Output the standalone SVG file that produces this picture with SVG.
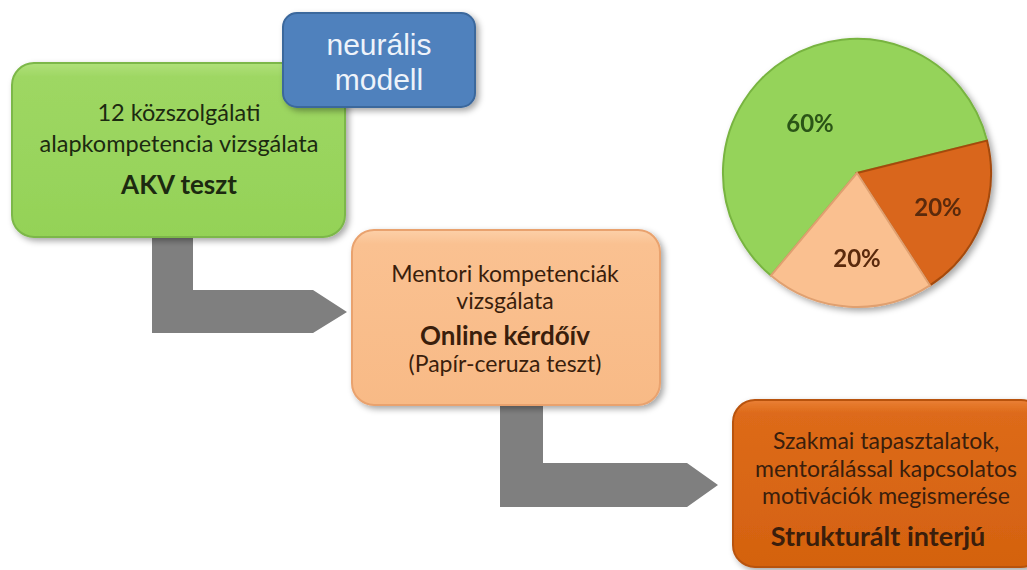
<svg xmlns="http://www.w3.org/2000/svg" width="1027" height="570" viewBox="0 0 1027 570">
<style>
.t{font-family:Lato,"Open Sans","Liberation Sans",sans-serif;text-anchor:middle}
.b{font-weight:bold}
.g{fill:#1c2a10}
.o{fill:#3a1e0c}
.arrow{fill:#7f7f7f}
</style>
<defs>
<filter id="sh" x="-10%" y="-10%" width="130%" height="130%">
<feDropShadow dx="3" dy="3" stdDeviation="3" flood-color="#000" flood-opacity="0.35"/>
</filter>
<linearGradient id="gg" x1="0" y1="0" x2="0" y2="1">
<stop offset="0" stop-color="#b0e07a"/><stop offset="0.08" stop-color="#9ed763"/><stop offset="1" stop-color="#94d257"/>
</linearGradient>
<linearGradient id="lo" x1="0" y1="0" x2="0" y2="1">
<stop offset="0" stop-color="#fcd0a8"/><stop offset="0.08" stop-color="#fac191"/><stop offset="1" stop-color="#f8ba86"/>
</linearGradient>
<linearGradient id="do" x1="0" y1="0" x2="0" y2="1">
<stop offset="0" stop-color="#ea8035"/><stop offset="0.08" stop-color="#dd6a1a"/><stop offset="1" stop-color="#d4620f"/>
</linearGradient>
</defs>
<g id="connectors">
<polygon class="arrow" points="152,230 193,230 193,290 313,290 347,312 313,333 152,333"/>
<polygon class="arrow" points="500,405 543,405 543,463 687,463 718,485 687,507 500,507"/>
</g>
<g id="akv">
<rect x="12" y="63" width="333" height="174" rx="22" fill="url(#gg)" stroke="#7cb748" stroke-width="2" filter="url(#sh)"/>
<text class="t g" x="179" y="121" font-size="23.5">12 közszolgálati</text>
<text class="t g" x="179" y="152" font-size="23.5">alapkompetencia vizsgálata</text>
<text class="t g b" x="179" y="194" font-size="26">AKV teszt</text>
</g>
<g id="neuralis">
<rect x="283" y="13" width="192" height="94" rx="14" fill="#4f81bd" stroke="#3b679c" stroke-width="2" filter="url(#sh)"/>
<text x="379" y="55" font-family="Liberation Sans,Arial,sans-serif" font-size="30" fill="#eef3fa" text-anchor="middle">neurális</text>
<text x="379" y="90" font-family="Liberation Sans,Arial,sans-serif" font-size="30" fill="#eef3fa" text-anchor="middle">modell</text>
</g>
<g id="mentori">
<rect x="352" y="230" width="308" height="175" rx="22" fill="url(#lo)" stroke="#e9a26e" stroke-width="2" filter="url(#sh)"/>
<text class="t o" x="505" y="282" font-size="23">Mentori kompetenciák</text>
<text class="t o" x="505" y="309" font-size="23">vizsgálata</text>
<text class="t o b" x="505" y="345" font-size="26">Online kérdőív</text>
<text class="t o" x="505" y="372" font-size="23">(Papír-ceruza teszt)</text>
</g>
<g id="interju">
<rect x="733" y="400" width="310" height="167" rx="22" fill="url(#do)" stroke="#b8520c" stroke-width="2" filter="url(#sh)"/>
<text class="t o" x="886" y="449" font-size="23">Szakmai tapasztalatok,</text>
<text class="t o" x="886" y="477" font-size="23">mentorálással kapcsolatos</text>
<text class="t o" x="886" y="504" font-size="23">motivációk megismerése</text>
<text class="t o b" x="878" y="546" font-size="27">Strukturált interjú</text>
</g>
<g id="pie" filter="url(#sh)">
<path d="M857,173 L770.9,275.6 A134,134 0 1 1 987.0,140.6 Z" fill="#95d35a" stroke="#78b441" stroke-width="2"/>
<path d="M857,173 L987.0,140.6 A134,134 0 0 1 930.0,285.4 Z" fill="#d9661a" stroke="#a44a0c" stroke-width="2"/>
<path d="M857,173 L930.0,285.4 A134,134 0 0 1 770.9,275.6 Z" fill="#fac090" stroke="#e0a070" stroke-width="2"/>
<text class="t b" x="810" y="132" font-size="24" fill="#2c5418">60%</text>
<text class="t b" x="938" y="216" font-size="24" fill="#5a2a0c">20%</text>
<text class="t b" x="857" y="267" font-size="24" fill="#5a2a0c">20%</text>
</g>
</svg>
